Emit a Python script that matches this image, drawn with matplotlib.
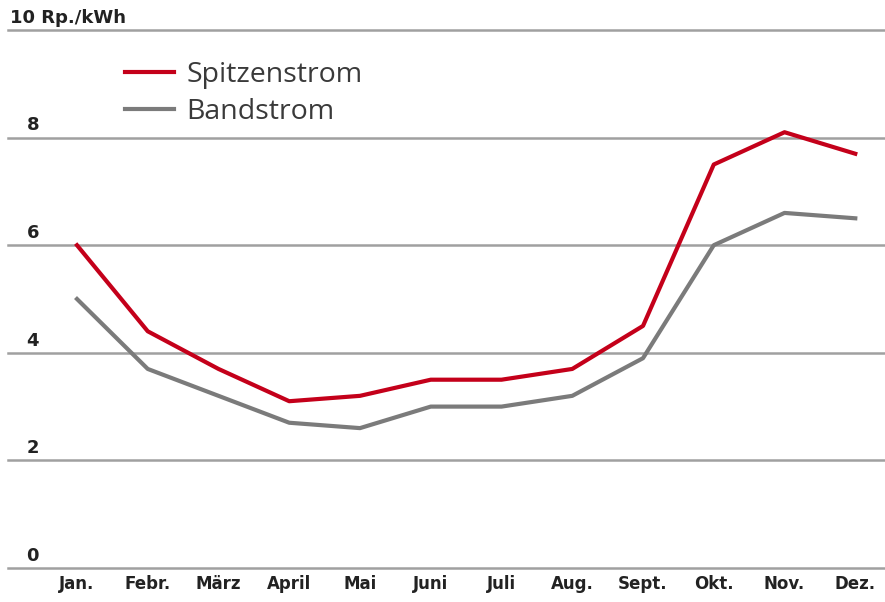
import matplotlib.pyplot as plt

# data
months = ['Jan.', 'Febr.', 'März', 'April', 'Mai', 'Juni', 'Juli',
          'Aug.', 'Sept.', 'Okt.', 'Nov.', 'Dez.']
spitzenstrom = [6.0, 4.4, 3.7, 3.1, 3.2, 3.5, 3.5, 3.7, 4.5, 7.5, 8.1, 7.7]
bandstrom = [5.0, 3.7, 3.2, 2.7, 2.6, 3.0, 3.0, 3.2, 3.9, 6.0, 6.6, 6.5]
y_ticks = [0, 2, 4, 6, 8, 10]
y_labels = ['0', '2', '4', '6', '8', '10 Rp./kWh']

narrow = ['DejaVu Sans']
plain = ['Open Sans', 'DejaVu Sans']

red = '#c4001a'
grey = '#7b7b7b'
text_col = '#222222'

fig = plt.figure(figsize=(8.85, 6.02), dpi=100)
ax = fig.add_axes([8 / 885, 34 / 602, 877 / 885, 538 / 602])

x = list(range(len(months)))
ax.plot(x, spitzenstrom, color=red, lw=3.0, label='Spitzenstrom', zorder=3)
ax.plot(x, bandstrom, color=grey, lw=3.0, label='Bandstrom', zorder=3)

ax.set_xlim(-0.975, 11.42)
ax.set_ylim(0, 10)

# horizontal rules
for t in y_ticks:
    ax.axhline(t, color='#a0a0a0', lw=1.8, zorder=1, clip_on=False)

for t, lab in zip(y_ticks, y_labels):
    xpos = 0.002 if t == 10 else 0.021
    ax.text(xpos, t + 0.06, lab, transform=ax.get_yaxis_transform(),
            ha='left', va='bottom', fontsize=13, fontweight='bold',
            family=narrow, color=text_col)

ax.set_xticks(x)
ax.set_xticklabels(months, family=narrow, fontsize=12, fontweight='bold', color=text_col)
ax.tick_params(axis='x', length=0, pad=5)
ax.set_yticks([])
for s in ax.spines.values():
    s.set_visible(False)

leg = ax.legend(loc='upper left', bbox_to_anchor=(0.133, 0.943), frameon=False,
                borderaxespad=0, borderpad=0,
                handlelength=1.75, handletextpad=0.42, labelspacing=0.32,
                prop={'family': plain, 'size': 20.5})
for t in leg.get_texts():
    t.set_color('#3a3a3a')

fig.savefig('out.png', dpi=100)
